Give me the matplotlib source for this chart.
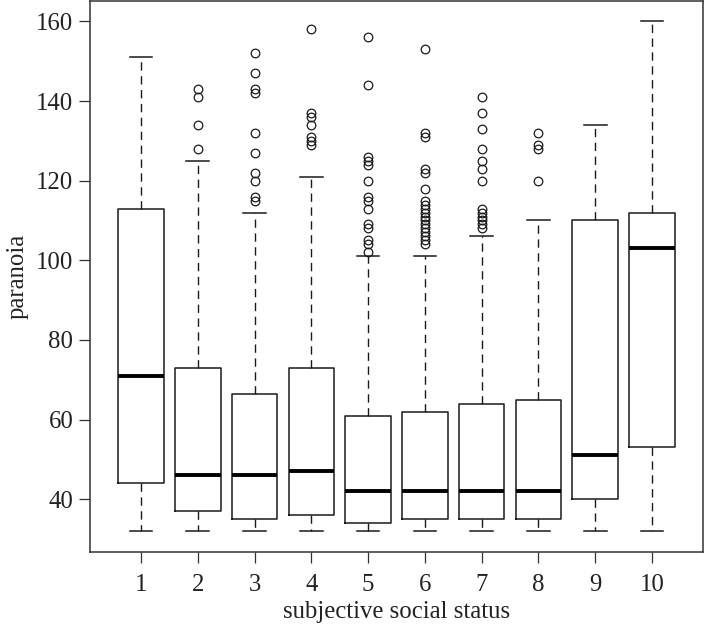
import matplotlib
matplotlib.use("Agg")
import matplotlib.pyplot as plt

# box statistics, one entry per status level
status = ["1", "2", "3", "4", "5", "6", "7", "8", "9", "10"]
whis_lo = [32, 32, 32, 32, 32, 32, 32, 32, 32, 32]
q1 = [44, 37, 35, 36, 34, 35, 35, 35, 40, 53]
median = [71, 46, 46, 47, 42, 42, 42, 42, 51, 103]
q3 = [113, 73, 66.5, 73, 61, 62, 64, 65, 110, 112]
whis_hi = [151, 125, 112, 121, 101, 101, 106, 110, 134, 160]
outliers = [
    [],
    [143, 141, 134, 128],
    [152, 147, 143, 142, 132, 127, 122, 120, 116, 115],
    [158, 137, 136, 134, 131, 130, 129],
    [156, 144, 126, 125, 124, 120, 116, 115, 113, 109, 108, 105, 104, 102],
    [153, 132, 131, 123, 122, 118, 115, 114, 113, 112, 111, 110,
     109, 108, 107, 106, 105, 104],
    [141, 137, 133, 128, 125, 123, 120, 113, 112, 111, 110, 109, 108],
    [132, 129, 128, 120],
    [],
    [],
]
y_ticks = [40, 60, 80, 100, 120, 140, 160]

plt.rcParams['font.family'] = ['Liberation Serif', 'DejaVu Serif']

stats = []
for i in range(len(status)):
    stats.append({
        "label": status[i],
        "whislo": whis_lo[i],
        "q1": q1[i],
        "med": median[i],
        "q3": q3[i],
        "whishi": whis_hi[i],
        "fliers": outliers[i],
    })

fig = plt.figure(figsize=(7.06, 6.25), dpi=100)
ax = fig.add_axes([90 / 706, 73.5 / 625, 613 / 706, 550.5 / 625])

ink = "#1a1a1a"
ax.bxp(
    stats,
    positions=range(1, len(status) + 1),
    widths=0.8,
    showfliers=True,
    boxprops=dict(color=ink, linewidth=1.1),
    whiskerprops=dict(color=ink, linewidth=1.0, linestyle=(0, (6, 4))),
    capprops=dict(color=ink, linewidth=1.1),
    capwidths=0.4,
    medianprops=dict(color="black", linewidth=2.8, solid_capstyle="butt"),
    flierprops=dict(marker="o", markerfacecolor="none",
                    markeredgecolor=ink, markersize=6.2,
                    markeredgewidth=0.9, linestyle="none"),
)

ax.set_xlim(0.1, 10.9)
ax.set_ylim(26.88, 165.12)
ax.set_yticks(y_ticks)
ax.set_yticklabels([str(v) for v in y_ticks])

for side in ax.spines.values():
    side.set_color("#333333")
    side.set_linewidth(1.1)

ax.tick_params(axis="both", direction="out", length=8, width=0.9,
               color="#333333", labelsize=17.8, labelcolor="#222222")
ax.tick_params(axis="x", pad=8)
ax.tick_params(axis="y", pad=4)

ax.set_xlabel("subjective social status", fontsize=17.8, color="#222222")
ax.set_ylabel("paranoia", fontsize=17.8, color="#222222")
ax.xaxis.set_label_coords(0.5, -0.09)
ax.yaxis.set_label_coords(-0.101, 0.5)

fig.savefig("out.png", dpi=100)
